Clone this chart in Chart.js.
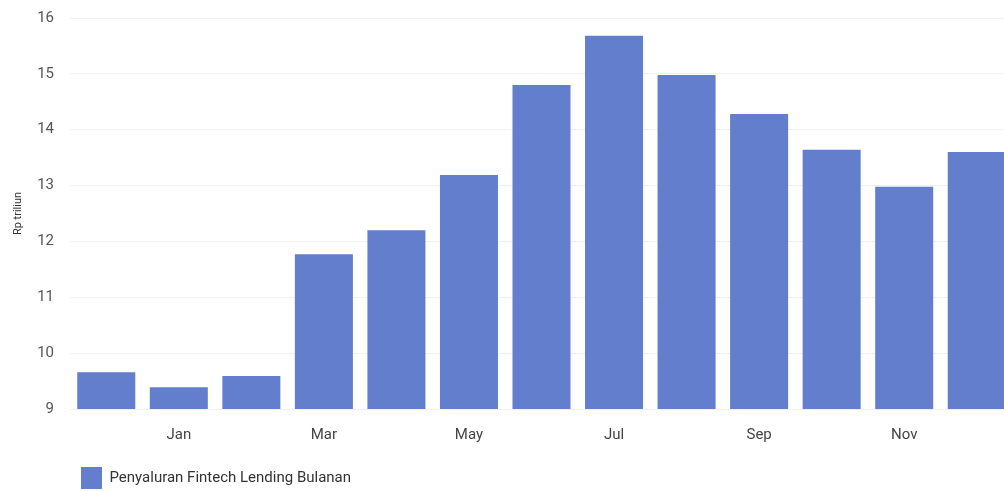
<!DOCTYPE html>
<html>
<head>
<meta charset="utf-8">
<script src="https://cdn.jsdelivr.net/npm/chart.js@4/dist/chart.umd.min.js"></script>
<style>
  html, body { margin: 0; padding: 0; background: #fff; overflow: hidden; }
  #wrap { position: relative; width: 1013px; height: 491px; }
</style>
</head>
<body>
<div id="wrap"><canvas id="chart"></canvas></div>
<script>
// data
const months = ['Dec', 'Jan', 'Feb', 'Mar', 'Apr', 'May', 'Jun', 'Jul', 'Aug', 'Sep', 'Oct', 'Nov', 'Dec'];
const penyaluran = [9.66, 9.39, 9.59, 11.77, 12.20, 13.19, 14.80, 15.68, 14.98, 14.28, 13.64, 12.98, 13.60];
const seriesLabel = 'Penyaluran Fintech Lending Bulanan';
const axisTitle = 'Rp triliun';

// geser legenda ke kanan bawah
const legendShift = {
    id: 'legendShift',
    afterLayout(chart) {
        if (chart.legend) {
            chart.legend.left += 79;
            chart.legend.right += 79;
            chart.legend.top += 8;
            chart.legend.bottom += 8;
        }
    }
};

new Chart(document.getElementById('chart'), {
    type: 'bar',
    data: {
        labels: months,
        datasets: [{
            label: seriesLabel,
            data: penyaluran,
            backgroundColor: '#637ecd',
            borderWidth: 0,
            barPercentage: 0.8,
            categoryPercentage: 1.0
        }]
    },
    options: {
        responsive: true,
        maintainAspectRatio: false,
        animation: false,
        layout: { padding: 0 },
        plugins: {
            legend: {
                position: 'bottom',
                align: 'start',
                labels: {
                    boxWidth: 21,
                    boxHeight: 22,
                    padding: 2,
                    color: '#333',
                    font: { family: 'Roboto', size: 15 }
                }
            },
            tooltip: { enabled: false }
        },
        scales: {
            x: {
                afterFit: scale => { scale.height = 48; },
                grid: { display: false, drawTicks: false },
                border: { display: false },
                ticks: {
                    autoSkip: false,
                    maxRotation: 0,
                    padding: 17,
                    color: '#444',
                    font: { family: 'Roboto', size: 15 },
                    callback: function (value, index) {
                        return index % 2 === 1 ? this.getLabelForValue(value) : '';
                    }
                }
            },
            y: {
                min: 9,
                max: 16,
                afterFit: scale => {
                    scale.width = 70;
                    scale.paddingTop = 18;
                    scale.paddingBottom = 0;
                },
                grid: { color: '#f0f0f0', drawTicks: false },
                border: { display: false },
                ticks: {
                    stepSize: 1,
                    padding: 16,
                    color: '#555',
                    font: { family: 'Roboto', size: 15 }
                },
                title: {
                    display: true,
                    text: axisTitle,
                    color: '#333',
                    font: { family: 'Roboto', size: 11 },
                    padding: { top: 12, bottom: 0 }
                }
            }
        }
    },
    plugins: [legendShift]
});
</script>
</body>
</html>
